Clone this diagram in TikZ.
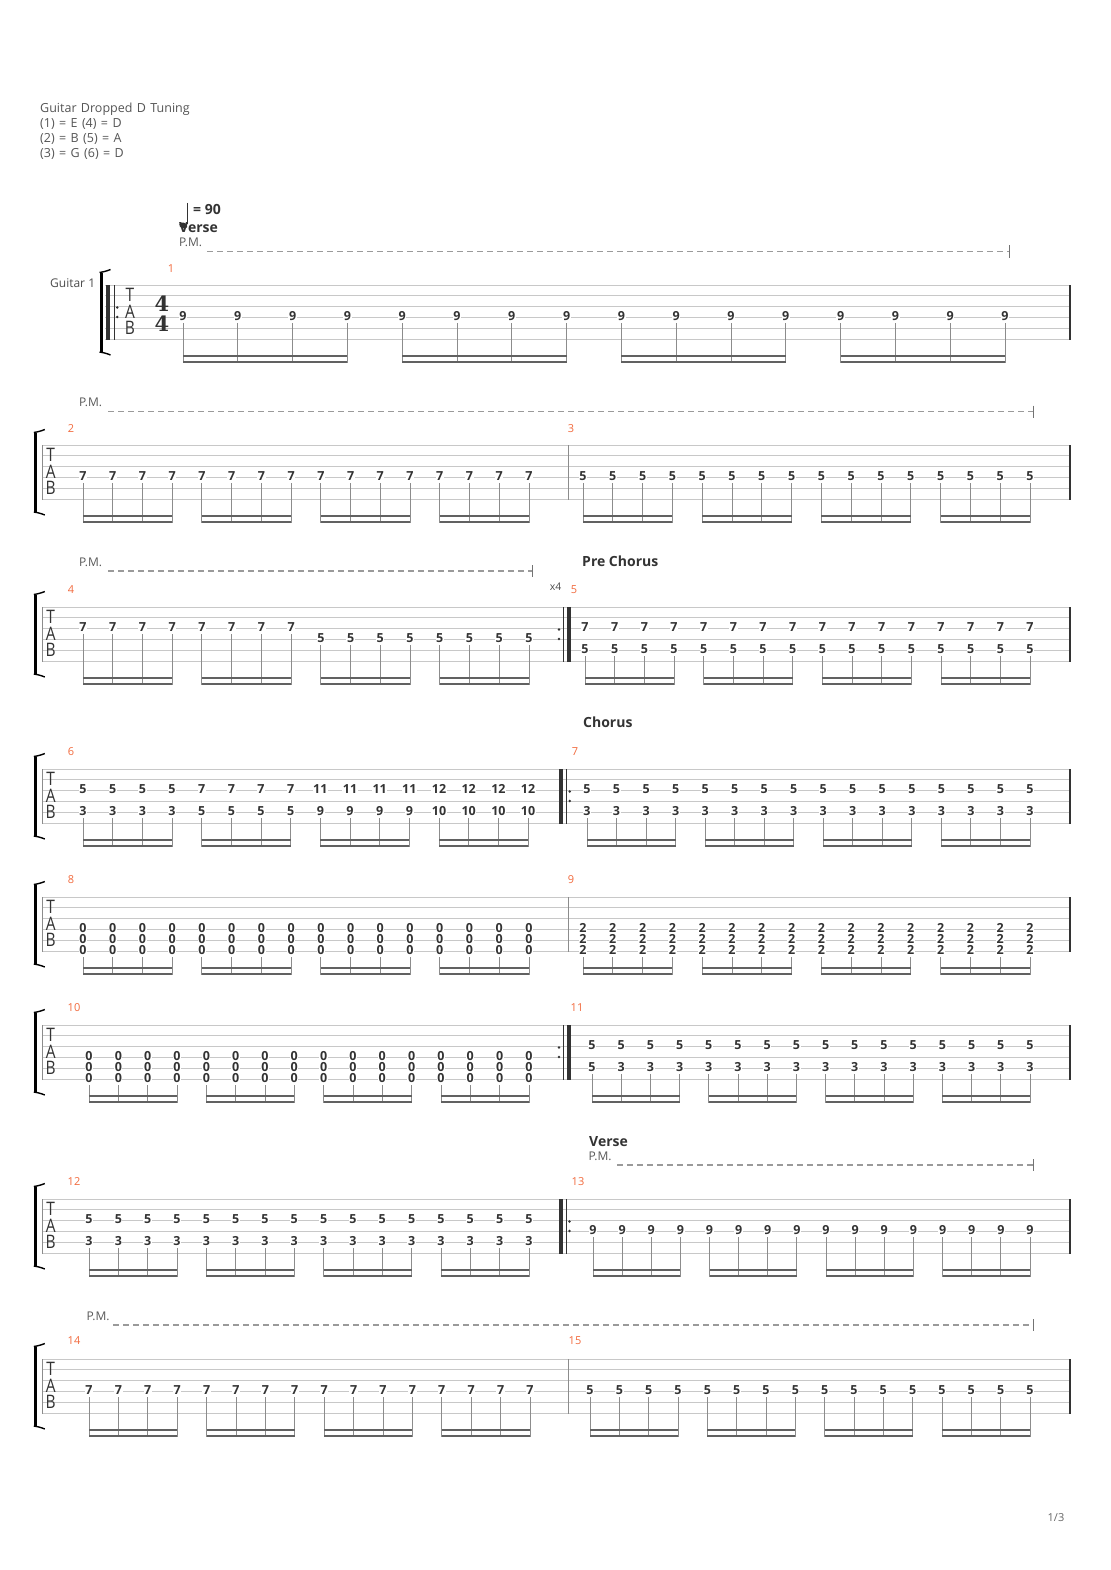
\documentclass[tikz,border=0pt]{standalone}
\usepackage{fontspec}
\setmainfont{Open Sans}
\newfontfamily\tsfont{DejaVu Serif}
\definecolor{ink}{HTML}{333333}
\definecolor{hdr}{HTML}{555555}
\definecolor{barno}{HTML}{F26A3D}
\definecolor{stf}{HTML}{C8C8C8}
\definecolor{pmgray}{HTML}{9A9A9A}
\newcommand\hdrfont{\fontsize{12.5}{12.5}\selectfont\spaceskip=4.4pt\relax}
\tikzset{
 fret/.style={font=\bfseries\fontsize{12.5}{12.5}\selectfont, text=ink, fill=white, inner sep=0.6pt},
 staffline/.style={draw=stf, line width=0.9pt},
 stemline/.style={draw=black!45, line width=0.9pt},
 beamline/.style={draw=black!62, line width=2.3pt},
 barline/.style={draw=black!45, line width=0.9pt},
 endbar/.style={draw=ink, line width=1.1pt},
 thickbar/.style={draw=ink, line width=3.6pt},
 brk/.style={draw=black, line width=3pt},
 hook/.style={draw=black, line width=1.4pt},
 barnum/.style={font=\fontsize{11}{11}\selectfont, text=barno, inner sep=0pt},
 pmtext/.style={font=\fontsize{12}{12}\selectfont, text=black!65, inner sep=0pt, anchor=west},
 pmline/.style={draw=pmgray, line width=1.2pt, dash pattern=on 6pt off 4pt},
 pmend/.style={draw=black!55, line width=1pt},
 sectiontext/.style={font=\bfseries\fontsize{14}{14}\selectfont, text=ink, inner sep=0pt, anchor=west},
 tabletter/.style={font=\fontsize{15.5}{15.5}\selectfont, text=ink, inner sep=0pt},
 hdrtext/.style={font=\hdrfont, text=hdr, inner sep=0pt, anchor=west},
 tsig/.style={font=\tsfont\bfseries\fontsize{21}{21}\selectfont, text=ink, inner sep=0pt},
}
% staff: top, left, right
\newcommand\Staff[3]{\foreach \k in {0,...,5}{\draw[staffline] (#2,{#1+\k*10.9}) -- (#3,{#1+\k*10.9});}}
% TAB clef: x, top
\newcommand\TabClef[2]{%
 \node[tabletter] (tT) at (#1,{#2+9.5}) {\scalebox{1}[1.2]{T}};
 \node[tabletter] (tA) at (#1,{#2+27}) {\scalebox{1}[1.2]{A}};
 \node[tabletter] (tB) at (#1,{#2+43}) {\scalebox{1}[1.2]{B}};}
% bracket: x, top
\newcommand\Bracket[2]{%
 \draw[brk] (#1,{#2-12.5}) -- (#1,{#2+67});
 \draw[hook] ({#1-1.5},{#2-12.5}) .. controls ({#1+2},{#2-13}) and ({#1+6},{#2-14}) .. ({#1+9.5},{#2-15.5});
 \draw[hook] ({#1-1.5},{#2+67}) .. controls ({#1+2},{#2+67.5}) and ({#1+6},{#2+68.5}) .. ({#1+9.5},{#2+70});}
% fret: x, top, string, fret
\newcommand\Fret[4]{\node[fret] at (#1,{#2+(#3-1)*10.9-1.5}) {#4};}
% single stem: x, top, lowest string
\newcommand\Stem[3]{\draw[stemline] (#1,{#2+(#3-1)*10.9+5.5}) -- (#1,{#2+54.5+23.3});}
% stems for 16 notes: x0, dx, top, lowest string
\newcommand\Stems[4]{\foreach \i in {0,...,15}{\Stem{#1+\i*#2}{#3}{#4}}}
% beams: x0, dx, top
\newcommand\Beams[3]{\foreach \g in {0,...,3}{%
   \draw[beamline] ({#1+4*\g*#2},{#3+54.5+16.8}) -- ({#1+(4*\g+3)*#2},{#3+54.5+16.8});
   \draw[beamline] ({#1+4*\g*#2},{#3+54.5+22.3}) -- ({#1+(4*\g+3)*#2},{#3+54.5+22.3});}}
% uniform bar: x0, dx, top, list s/f
\newcommand\Uni[4]{\foreach \i in {0,...,15}{\foreach \s/\f in {#4}{\Fret{#1+\i*#2}{#3}{\s}{\f}}}}
% repeat dots: x, top
\newcommand\Dots[2]{\fill[ink] (#1,{#2+22.5}) circle (1.4); \fill[ink] (#1,{#2+32}) circle (1.4);}
% palm mute: text x, text y, line y, line start, line end
\newcommand\PM[5]{\node[pmtext] at (#1,#2) {P.M.};
 \draw[pmline] (#4,#3) -- (#5,#3); \draw[pmend] (#5,{#3-6}) -- (#5,{#3+6});}
\newcommand\Bar[2]{\draw[barline] (#1,#2) -- (#1,{#2+54.5});}
\newcommand\EndBar[2]{\draw[endbar] (#1,#2) -- (#1,{#2+54.5});}
\newcommand\Thick[2]{\draw[thickbar] (#1,#2) -- (#1,{#2+54.5});}
\newcommand\Thin[2]{\draw[endbar] (#1,#2) -- (#1,{#2+54.5});}

\begin{document}
\begin{tikzpicture}[x=1pt,y=-1pt]
\useasboundingbox (0,0) rectangle (1110,1570);
\fill[white] (0,0) rectangle (1110,1570);

% header
\node[hdrtext] (h1) at (40,109) {Guitar Dropped D Tuning};
\node[hdrtext] (h2) at (40,124) {(1) = E (4) = D};
\node[hdrtext] (h3) at (40,139) {(2) = B (5) = A};
\node[hdrtext] (h4) at (40,154) {(3) = G (6) = D};

% ===== System 1 =====
\Staff{285}{105}{1070}
\Bracket{101}{285}
\Thick{107.7}{285}
\Thin{114.5}{285}
\Dots{117.3}{285}
\TabClef{130}{285}
\node[tsig] (ts1) at (162,303.5) {4};
\node[tsig] (ts2) at (162,323.8) {4};
\EndBar{1070}{285}
\Stems{183}{54.8}{285}{4}
\Beams{183}{54.8}{285}
\Uni{183}{54.8}{285}{4/9}
\node[font=\fontsize{12}{12}\selectfont, text=black!70, inner sep=0pt, anchor=west] (g1) at (50,283.5) {Guitar 1};
\node[barnum] (b1) at (171,269) {1};
% tempo
\draw[ink, line width=0.8pt] (187,203) -- (187,224.5);
\node[sectiontext] (v1) at (179,228) {Verse};
\fill[ink, rotate around={-20:(183.3,225.5)}] (183.3,225.5) ellipse (4.2 and 2.9);
\node[font=\bfseries\fontsize{14}{14}\selectfont, text=ink, inner sep=0pt, anchor=west] (tempo) at (193,209.5) {= 90};
\PM{179}{242.5}{251.5}{207}{1009}

% ===== System 2 =====
\def\T{445}
\Staff{\T}{42}{1070}
\Bracket{35.3}{\T}
\Bar{42}{\T}
\TabClef{50.7}{\T}
\Bar{568}{\T}
\EndBar{1070}{\T}
\Stems{83}{29.73}{\T}{4}\Beams{83}{29.73}{\T}\Uni{83}{29.73}{\T}{4/7}
\Stems{583}{29.8}{\T}{4}\Beams{583}{29.8}{\T}\Uni{583}{29.8}{\T}{4/5}
\node[barnum] (b2) at (71,429) {2};
\node[barnum] (b3) at (571,429) {3};
\PM{79}{402.5}{411.5}{108}{1033}

% ===== System 3 =====
\def\T{607}
\Staff{\T}{42}{1070}
\Bracket{35.3}{\T}
\Bar{42}{\T}
\TabClef{50.7}{\T}
\Dots{559}{\T}
\Thin{563.3}{\T}
\Thick{568.7}{\T}
\EndBar{1070}{\T}
\foreach \i in {0,...,7}{\Stem{83+\i*29.73}{\T}{3}\Fret{83+\i*29.73}{\T}{3}{7}}
\foreach \i in {8,...,15}{\Stem{83+\i*29.73}{\T}{4}\Fret{83+\i*29.73}{\T}{4}{5}}
\Beams{83}{29.73}{\T}
\Stems{585}{29.67}{\T}{5}\Beams{585}{29.67}{\T}\Uni{585}{29.67}{\T}{3/7,5/5}
\node[barnum] (b4) at (71,590) {4};
\node[barnum] (b5) at (574,590) {5};
\node[font=\fontsize{10.5}{10.5}\selectfont, text=black!70, inner sep=0pt] (x4) at (555.5,587) {x4};
\PM{79}{562}{571}{108}{532}
\node[sectiontext] (pc) at (582,561.5) {Pre Chorus};

% ===== System 4 =====
\def\T{769}
\Staff{\T}{42}{1070}
\Bracket{35.3}{\T}
\Bar{42}{\T}
\TabClef{50.7}{\T}
\Thick{561}{\T}
\Thin{566.3}{\T}
\Dots{569.7}{\T}
\EndBar{1070}{\T}
\Stems{83}{29.67}{\T}{5}\Beams{83}{29.67}{\T}
\foreach \i/\a/\b in {0/5/3,1/5/3,2/5/3,3/5/3,4/7/5,5/7/5,6/7/5,7/7/5,8/11/9,9/11/9,10/11/9,11/11/9,12/12/10,13/12/10,14/12/10,15/12/10}{%
  \Fret{83+\i*29.67}{\T}{3}{\a}\Fret{83+\i*29.67}{\T}{5}{\b}}
\Stems{587}{29.53}{\T}{5}\Beams{587}{29.53}{\T}\Uni{587}{29.53}{\T}{3/5,5/3}
\node[barnum] (b6) at (71,752) {6};
\node[barnum] (b7) at (575,752) {7};
\node[sectiontext] (ch) at (583,722.5) {Chorus};

% ===== System 5 =====
\def\T{897}
\Staff{\T}{42}{1070}
\Bracket{35.3}{\T}
\Bar{42}{\T}
\TabClef{50.7}{\T}
\Bar{568}{\T}
\EndBar{1070}{\T}
\Stems{83}{29.73}{\T}{6}\Beams{83}{29.73}{\T}\Uni{83}{29.73}{\T}{4/0,5/0,6/0}
\Stems{583}{29.8}{\T}{6}\Beams{583}{29.8}{\T}\Uni{583}{29.8}{\T}{4/2,5/2,6/2}
\node[barnum] (b8) at (71,880) {8};
\node[barnum] (b9) at (571,880) {9};

% ===== System 6 =====
\def\T{1025}
\Staff{\T}{42}{1070}
\Bracket{35.3}{\T}
\Bar{42}{\T}
\TabClef{50.7}{\T}
\Dots{559}{\T}
\Thin{563.3}{\T}
\Thick{568.7}{\T}
\EndBar{1070}{\T}
\Stems{89}{29.33}{\T}{6}\Beams{89}{29.33}{\T}\Uni{89}{29.33}{\T}{4/0,5/0,6/0}
\Stems{592}{29.2}{\T}{5}\Beams{592}{29.2}{\T}\Uni{592}{29.2}{\T}{3/5}
\Fret{592}{\T}{5}{5}
\foreach \i in {1,...,15}{\Fret{592+\i*29.2}{\T}{5}{3}}
\node[barnum] (b10) at (74,1008) {10};
\node[barnum] (b11) at (577,1008) {11};

% ===== System 7 =====
\def\T{1199}
\Staff{\T}{42}{1070}
\Bracket{35.3}{\T}
\Bar{42}{\T}
\TabClef{50.7}{\T}
\Thick{561}{\T}
\Thin{566.3}{\T}
\Dots{569.5}{\T}
\EndBar{1070}{\T}
\Stems{89}{29.33}{\T}{5}\Beams{89}{29.33}{\T}\Uni{89}{29.33}{\T}{3/5,5/3}
\Stems{593}{29.13}{\T}{4}\Beams{593}{29.13}{\T}\Uni{593}{29.13}{\T}{4/9}
\node[barnum] (b12) at (74,1182) {12};
\node[barnum] (b13) at (578,1182) {13};
\node[sectiontext] (v2) at (589,1141.5) {Verse};
\PM{588.5}{1156.5}{1165}{617}{1033}

% ===== System 8 =====
\def\T{1359}
\Staff{\T}{42}{1070}
\Bracket{35.3}{\T}
\Bar{42}{\T}
\TabClef{50.7}{\T}
\Bar{568}{\T}
\EndBar{1070}{\T}
\Stems{89}{29.4}{\T}{4}\Beams{89}{29.4}{\T}\Uni{89}{29.4}{\T}{4/7}
\Stems{590}{29.33}{\T}{4}\Beams{590}{29.33}{\T}\Uni{590}{29.33}{\T}{4/5}
\node[barnum] (b14) at (74,1341) {14};
\node[barnum] (b15) at (575,1341) {15};
\PM{86.5}{1316}{1325}{113}{1033}

% page number
\node[font=\fontsize{11}{11}\selectfont, text=black!60, inner sep=0pt] (pg) at (1056,1518) {1/3};
\end{tikzpicture}
\end{document}
